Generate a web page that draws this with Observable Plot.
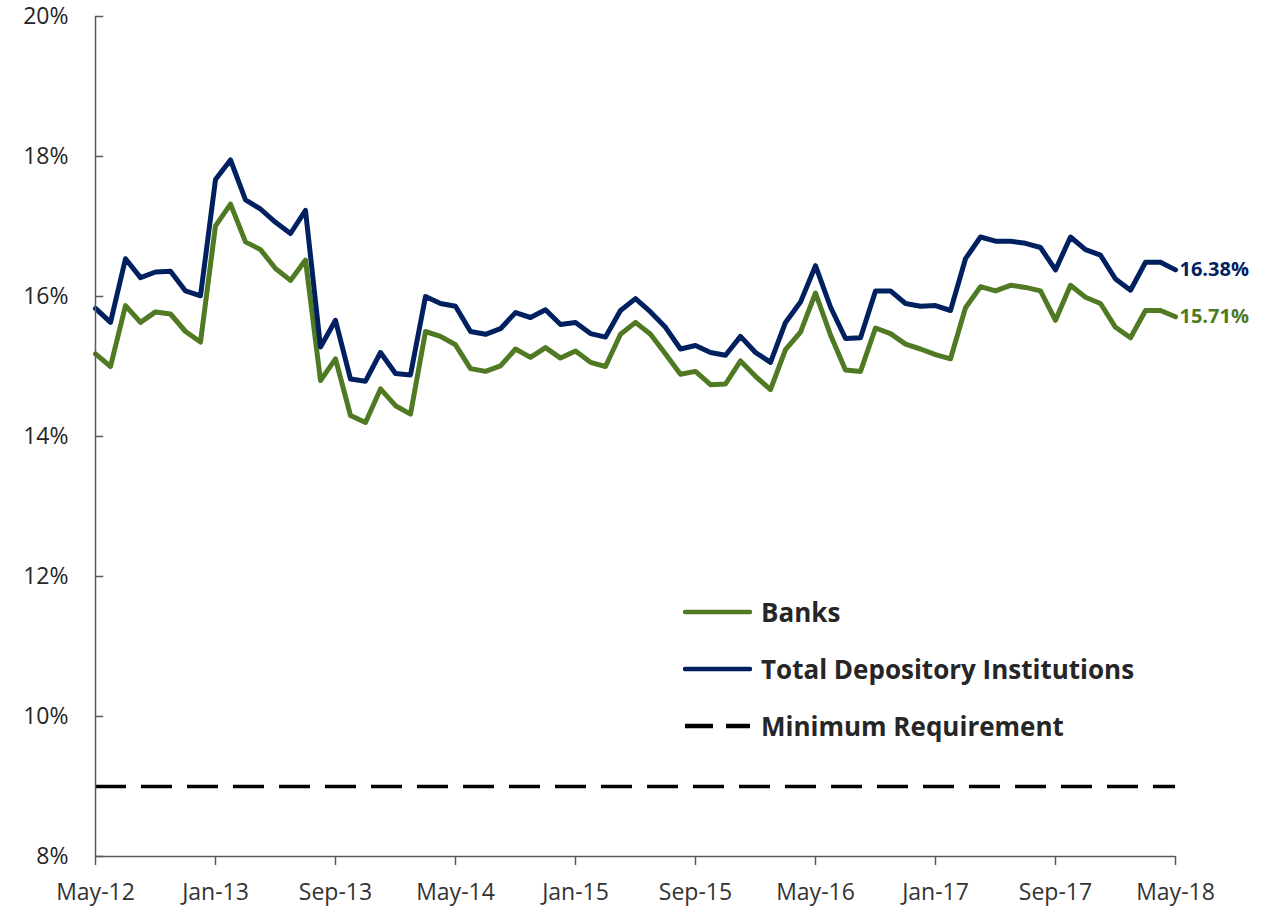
<!DOCTYPE html>
<html><head><meta charset="utf-8">
<script src="https://cdn.jsdelivr.net/npm/d3@7"></script>
<script src="https://cdn.jsdelivr.net/npm/@observablehq/plot@0.6"></script>
<style>
body{margin:0;background:#fff;font-family:"Open Sans",sans-serif;}
#wrap{position:relative;width:1265px;height:907px;}
.legend{position:absolute;left:683px;top:583px;}
.row{display:flex;align-items:center;height:57px;}
.sw{width:69px;margin-right:9px;display:block;}
.lbl{font-weight:700;font-size:26px;color:#262626;line-height:1;}
</style></head><body><div id="wrap"></div>
<script>
// Monthly series, May-2012 .. May-2018 (73 months)
const banks = [15.18,15.00,15.87,15.63,15.78,15.75,15.50,15.35,17.01,17.32,16.78,16.67,16.40,16.23,16.52,14.80,15.11,14.30,14.20,14.68,14.44,14.32,15.50,15.43,15.31,14.97,14.93,15.01,15.25,15.13,15.27,15.12,15.22,15.06,15.00,15.46,15.63,15.46,15.18,14.89,14.93,14.74,14.75,15.08,14.86,14.67,15.24,15.49,16.05,15.45,14.95,14.93,15.55,15.47,15.32,15.25,15.17,15.11,15.84,16.14,16.08,16.16,16.13,16.08,15.66,16.16,15.99,15.90,15.56,15.41,15.80,15.80,15.71];
const totalDepository = [15.83,15.63,16.54,16.27,16.35,16.36,16.08,16.01,17.67,17.95,17.38,17.25,17.06,16.90,17.23,15.28,15.66,14.82,14.79,15.20,14.90,14.88,16.00,15.90,15.86,15.50,15.46,15.54,15.77,15.70,15.81,15.60,15.63,15.47,15.42,15.80,15.97,15.78,15.56,15.25,15.30,15.20,15.16,15.43,15.20,15.06,15.63,15.92,16.44,15.85,15.40,15.41,16.08,16.08,15.90,15.86,15.87,15.80,16.54,16.85,16.79,16.79,16.76,16.70,16.38,16.85,16.67,16.59,16.25,16.09,16.49,16.49,16.38];
const minimumRequirement = 9;
const xTickLabels = ["May-12","Jan-13","Sep-13","May-14","Jan-15","Sep-15","May-16","Jan-17","Sep-17","May-18"];
const xTickStep = 8; // months between labelled ticks
const yTicks = [8,10,12,14,16,18,20];
const seriesNames = ["Banks","Total Depository Institutions","Minimum Requirement"];
const colors = {banks:"#4F7923", total:"#002060", min:"#000000"};

const n = banks.length;
const xTicks = xTickLabels.map((_, i) => i * xTickStep);
const axisColor = "#595959";

const chart = Plot.plot({
  width: 1265, height: 907,
  marginLeft: 95, marginRight: 90, marginTop: 16, marginBottom: 51,
  style: {fontFamily: "Open Sans, sans-serif", color: "#262626", background: "#fff"},
  x: {domain: [0, n - 1]},
  y: {domain: [8, 20]},
  marks: [
    Plot.ruleY([minimumRequirement], {x1: 0, x2: n - 1, stroke: colors.min, strokeWidth: 3.5, strokeDasharray: "31,15"}),
    Plot.lineY(banks, {x: (d, i) => i, y: d => d, stroke: colors.banks, strokeWidth: 5, strokeLinejoin: "round"}),
    Plot.lineY(totalDepository, {x: (d, i) => i, y: d => d, stroke: colors.total, strokeWidth: 5, strokeLinejoin: "round"}),
    Plot.text([totalDepository[n - 1]], {x: n - 1, y: d => d, text: d => d.toFixed(2) + "%", dx: 4, textAnchor: "start", fill: colors.total, fontWeight: 700, fontSize: 20}),
    Plot.text([banks[n - 1]], {x: n - 1, y: d => d, text: d => d.toFixed(2) + "%", dx: 4, textAnchor: "start", fill: colors.banks, fontWeight: 700, fontSize: 20}),
    Plot.ruleY(yTicks, {x1: 0, x2: 0.55, stroke: axisColor, strokeWidth: 1.5}),
    Plot.ruleX([0], {y1: 8, y2: 20, stroke: axisColor, strokeWidth: 1.5}),
    Plot.ruleY([8], {x1: 0, x2: n - 1, stroke: axisColor, strokeWidth: 1.5}),
    Plot.axisY({ticks: yTicks, tickFormat: d => d + "%", tickSize: 0, tickPadding: 27, fontSize: 23, fill: "#262626"}),
    Plot.axisX({ticks: xTicks, tickFormat: (d, i) => xTickLabels[i], tickSize: 9, tickPadding: 18, fontSize: 23, stroke: axisColor, strokeWidth: 1.5, fill: "#333"})
  ]
});

const wrap = document.getElementById("wrap");
wrap.appendChild(chart);

const legend = document.createElement("div");
legend.className = "legend";
const items = [
  {name: seriesNames[0], color: colors.banks, dash: null},
  {name: seriesNames[1], color: colors.total, dash: null},
  {name: seriesNames[2], color: colors.min, dash: "28,13"}
];
for (const it of items) {
  const row = document.createElement("div");
  row.className = "row";
  const svg = d3.create("svg").attr("class", "sw").attr("width", 69).attr("height", 10);
  svg.append("line").attr("x1", 2).attr("x2", 67).attr("y1", 5).attr("y2", 5)
    .attr("stroke", it.color).attr("stroke-width", 4.5).attr("stroke-linecap", it.dash ? "butt" : "round")
    .attr("stroke-dasharray", it.dash);
  row.appendChild(svg.node());
  const lbl = document.createElement("span");
  lbl.className = "lbl";
  lbl.textContent = it.name;
  row.appendChild(lbl);
  legend.appendChild(row);
}
wrap.appendChild(legend);
</script>
</body></html>
